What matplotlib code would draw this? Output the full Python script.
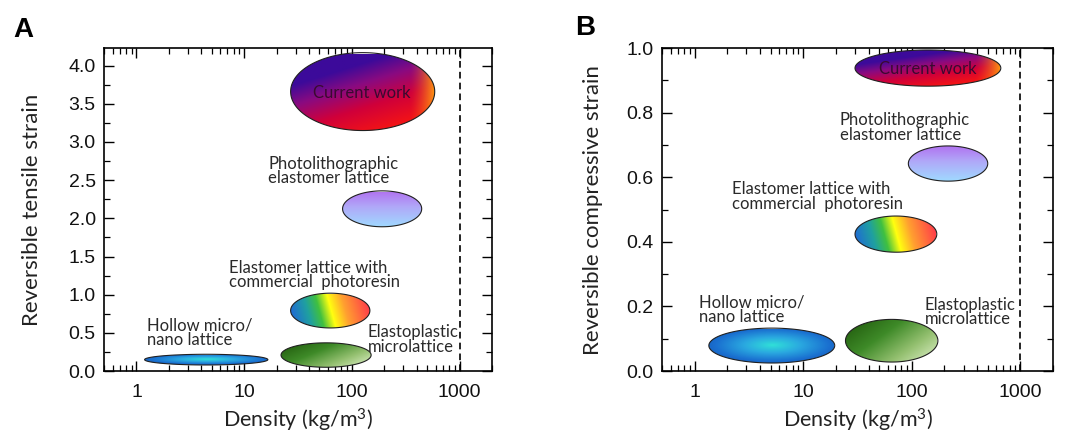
import numpy as np
import matplotlib
matplotlib.use("Agg")
import matplotlib.pyplot as plt
from matplotlib.patches import Polygon

plt.rcParams["mathtext.fontset"] = "custom"
plt.rcParams["mathtext.rm"] = "Lato"
plt.rcParams["mathtext.it"] = "Lato:italic"

# ---------------- data ----------------
names = ["Current work", "Photolithographic", "Elastomer commercial", "Hollow", "Elastoplastic"]

# Panel A: reversible tensile strain
A_dens_lo = [27, 82, 27, 1.19, 22]
A_dens_hi = [588, 445, 147, 16.6, 151]
A_strain_lo = [3.15, 1.89, 0.565, 0.08, 0.05]
A_strain_hi = [4.17, 2.36, 1.02, 0.22, 0.37]

# Panel B: reversible compressive strain
B_dens_lo = [30, 93, 30, 1.35, 24.5]
B_dens_hi = [661, 501, 170, 19.5, 174]
B_strain_lo = [0.882, 0.588, 0.368, 0.025, 0.028]
B_strain_hi = [0.994, 0.697, 0.480, 0.133, 0.160]

# labels (text, x, y)
A_labels = [
    ("Current work", 124, 3.64, "center"),
    ("Photolithographic\nelastomer lattice", 16.7, 2.62, "left"),
    ("Elastomer lattice with\ncommercial  photoresin", 7.2, 1.26, "left"),
    ("Hollow micro/\nnano lattice", 1.24, 0.50, "left"),
    ("Elastoplastic\nmicrolattice", 141, 0.41, "left"),
]
B_labels = [
    ("Current work", 139, 0.935, "center"),
    ("Photolithographic\nelastomer lattice", 21.6, 0.755, "left"),
    ("Elastomer lattice with\ncommercial  photoresin", 2.19, 0.54, "left"),
    ("Hollow micro/\nnano lattice", 1.09, 0.19, "left"),
    ("Elastoplastic\nmicrolattice", 131, 0.183, "left"),
]

x_ticks = [1, 10, 100, 1000]
x_ticklabels = ["1", "10", "100", "1000"]
A_yticks = [0.0, 0.5, 1.0, 1.5, 2.0, 2.5, 3.0, 3.5, 4.0]
B_yticks = [0.0, 0.2, 0.4, 0.6, 0.8, 1.0]
vline_x = 1000

# ---------------- gradients ----------------
def hexrgb(h):
    h = h.lstrip("#")
    return np.array([int(h[i:i + 2], 16) / 255 for i in (0, 2, 4)])

def ramp(s, stops):
    s = np.clip(s, 0, 1)
    pos = np.array([p for p, _ in stops])
    cols = np.array([hexrgb(c) for _, c in stops])
    out = np.zeros(s.shape + (3,))
    for k in range(3):
        out[..., k] = np.interp(s, pos, cols[:, k])
    return out

def gradient(kind, u, v):
    if kind == 0:  # current work
        t = np.clip(0.95 * v - 0.55 * u + 0.45, 0, 1)
        base = ramp(t, [(0, "#ff1a0a"), (0.45, "#d0003a"), (0.75, "#8a0a80"), (1.0, "#3c0a9a")])
        w = np.clip((u - 0.82) / 0.18, 0, 1) ** 1.5
        orange = hexrgb("#ff9a10")
        return base * (1 - w[..., None]) + orange * w[..., None]
    if kind == 1:  # photolithographic
        return ramp(1 - v, [(0, "#b070f0"), (0.45, "#b0a8f8"), (1.0, "#a0d8ff")])
    if kind == 2:  # rainbow
        s = u + 0.12 * (v - 0.5)
        return ramp(s, [(0, "#1f6fd0"), (0.2, "#1fa0a0"), (0.35, "#40c040"),
                        (0.5, "#ffff10"), (0.68, "#ffa030"), (1.0, "#ff3a4a")])
    if kind == 3:  # hollow, radial
        r = np.sqrt(((u - 0.5) / 0.5) ** 2 + ((v - 0.5) / 0.5) ** 2)
        return ramp(r, [(0, "#30e0d8"), (0.45, "#2aa8e0"), (0.9, "#1a70d0"), (1.2, "#1458b8")])
    # elastoplastic
    s = 0.7 * u + 0.45 * (1 - v) - 0.1
    return ramp(s, [(0, "#246010"), (0.35, "#3e8a28"), (0.7, "#94c070"), (1.0, "#d8ecc0")])


def draw_ellipse(ax, kind, xlo, xhi, ylo, yhi):
    lc = (np.log10(xlo) + np.log10(xhi)) / 2
    hw = (np.log10(xhi) - np.log10(xlo)) / 2
    yc = (ylo + yhi) / 2
    hh = (yhi - ylo) / 2
    t = np.linspace(0, 2 * np.pi, 300)
    px = 10 ** (lc + hw * np.cos(t))
    py = yc + hh * np.sin(t)
    poly = Polygon(np.column_stack([px, py]), closed=True, facecolor="none",
                   edgecolor="#202020", lw=0.8, zorder=4)
    ax.add_patch(poly)
    nx, ny = 600, 200
    xs = np.linspace(xlo, xhi, nx)
    u = (np.log10(xs) - np.log10(xlo)) / (np.log10(xhi) - np.log10(xlo))
    v = np.linspace(1, 0, ny)
    U, V = np.meshgrid(u, v)
    img = gradient(kind, U, V)
    im = ax.imshow(img, extent=[xlo, xhi, ylo, yhi], aspect="auto",
                   interpolation="bilinear", zorder=3, origin="upper")
    im.set_clip_path(poly)


fig = plt.figure(figsize=(10.77, 4.33), dpi=100)
ax1 = fig.add_axes([0.0966, 0.143, 0.3602, 0.746])
ax2 = fig.add_axes([0.6147, 0.143, 0.3630, 0.746])

lab_font = "Lato"
tick_font = "Liberation Sans"

panels = [
    (ax1, A_dens_lo, A_dens_hi, A_strain_lo, A_strain_hi, A_labels, A_yticks, (0, 4.23),
     "Reversible tensile strain", 0.25, -0.16),
    (ax2, B_dens_lo, B_dens_hi, B_strain_lo, B_strain_hi, B_labels, B_yticks, (0, 1.0),
     "Reversible compressive strain", 0.1, -0.15),
]

for (ax, dlo, dhi, slo, shi, labels, yticks, ylim, ylabel, yminor, ylx) in panels:
    ax.set_xscale("log")
    ax.set_xlim(0.5, 2000)
    ax.set_ylim(*ylim)
    for k in range(len(names)):
        draw_ellipse(ax, k, dlo[k], dhi[k], slo[k], shi[k])
    ax.axvline(vline_x, color="black", lw=1.2, ls=(0, (4, 2.5)), zorder=2)
    for i, (txt, x, y, ha) in enumerate(labels):
        if i == 0:
            ax.text(x, y, txt, ha="center", va="center", fontsize=12, family=lab_font,
                    color="#3a0a30", zorder=6)
        else:
            ax.text(x, y, txt, ha=ha, va="center", fontsize=12, family=lab_font,
                    color="#2a2a2a", linespacing=0.9, zorder=6)
    ax.set_xticks(x_ticks)
    ax.set_xticklabels(x_ticklabels)
    ax.set_yticks(yticks)
    ax.set_yticklabels([f"{v:.1f}" for v in yticks])
    ax.yaxis.set_minor_locator(matplotlib.ticker.MultipleLocator(yminor))
    ax.xaxis.set_minor_locator(matplotlib.ticker.LogLocator(base=10, subs=np.arange(2, 10), numticks=20))
    ax.xaxis.set_minor_formatter(matplotlib.ticker.NullFormatter())
    ax.tick_params(which="both", direction="in", top=True, right=True)
    ax.tick_params(which="major", length=7, width=1.0)
    ax.tick_params(which="minor", length=4, width=0.9)
    ax.tick_params(axis="x", which="major", pad=9)
    ax.tick_params(axis="y", which="major", pad=6)
    for lbl in ax.get_xticklabels() + ax.get_yticklabels():
        lbl.set_family(tick_font)
        lbl.set_fontsize(14)
        lbl.set_color("#111111")
    for sp in ax.spines.values():
        sp.set_linewidth(1.2)
    ax.set_xlabel("Density (kg/m$^3$)", family=lab_font, fontsize=15.5, color="#222222")
    ax.xaxis.set_label_coords(0.5, -0.11)
    ax.set_ylabel(ylabel, family=lab_font, fontsize=16, color="#222222")
    ax.yaxis.set_label_coords(ylx, 0.5)

fig.text(13 / 1077, 1 - 37 / 433, "A", fontsize=20, fontweight="bold", family="Liberation Sans")
fig.text(575 / 1077, 1 - 35 / 433, "B", fontsize=20, fontweight="bold", family="Liberation Sans")

fig.savefig("out.png", dpi=100)
